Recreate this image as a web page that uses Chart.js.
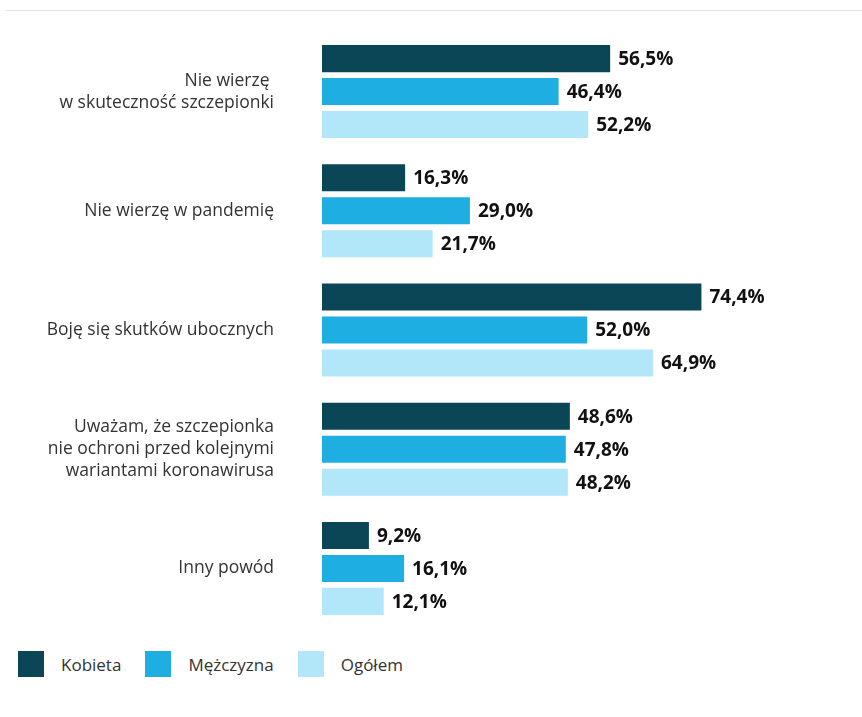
<!DOCTYPE html>
<html>
<head>
<meta charset="utf-8">
<script src="https://cdn.jsdelivr.net/npm/chart.js@4"></script>
<style>
  body { margin: 0; background: #fff; font-family: "Open Sans", sans-serif; }
  #wrap { position: relative; width: 862px; height: 717px; }
  #topline { position: absolute; left: 5px; right: 0; top: 10px; height: 1px; background: #e7e5ef; }
  #box { position: absolute; left: 0; top: 0; width: 862px; height: 640px; }
  #legend { position: absolute; left: 18px; top: 651px; display: flex; align-items: center; }
  .item { display: flex; align-items: center; margin-right: 24px; }
  .swatch { width: 26px; height: 26px; margin-right: 17px; }
  .item span { font-size: 17px; color: #333; }
</style>
</head>
<body>
<div id="wrap">
  <div id="topline"></div>
  <div id="box"><canvas id="powodyChart"></canvas></div>
  <div id="legend"></div>
</div>
<script>
const categories = [
    ['Nie wierzę ', 'w skuteczność szczepionki'],
    'Nie wierzę w pandemię',
    'Boję się skutków ubocznych',
    ['Uważam, że szczepionka', 'nie ochroni przed kolejnymi', 'wariantami koronawirusa'],
    'Inny powód'
];
const seriesNames = ['Kobieta', 'Mężczyzna', 'Ogółem'];
const kobieta = [56.5, 16.3, 74.4, 48.6, 9.2];
const mezczyzna = [46.4, 29.0, 52.0, 47.8, 16.1];
const ogolem = [52.2, 21.7, 64.9, 48.2, 12.1];
const colors = ['#0a4656', '#1eaee2', '#b1e7f8'];

const fmt = v => v.toFixed(1).replace('.', ',') + '%';

// value labels at the end of each bar
const valueLabels = {
    id: 'valueLabels',
    afterDatasetsDraw(chart) {
        const c = chart.ctx;
        c.save();
        c.font = 'bold 19px "Open Sans", sans-serif';
        c.fillStyle = '#111';
        c.textAlign = 'left';
        c.textBaseline = 'middle';
        chart.data.datasets.forEach((ds, i) => {
            chart.getDatasetMeta(i).data.forEach((bar, j) => {
                c.fillText(fmt(ds.data[j]), bar.x + 8, bar.y + 1);
            });
        });
        c.restore();
    }
};

const ctx = document.getElementById('powodyChart');
if (ctx) {
    new Chart(ctx, {
        type: 'bar',
        data: {
            labels: categories,
            datasets: [kobieta, mezczyzna, ogolem].map((d, i) => ({
                label: seriesNames[i],
                data: d,
                backgroundColor: colors[i],
                categoryPercentage: 0.83,
                barPercentage: 0.82
            }))
        },
        options: {
            indexAxis: 'y',
            responsive: true,
            maintainAspectRatio: false,
            animation: false,
            layout: { padding: { top: 32, bottom: 12, right: 30 } },
            plugins: {
                legend: { display: false },
                tooltip: { enabled: false }
            },
            scales: {
                x: {
                    display: false,
                    min: 0,
                    max: 100
                },
                y: {
                    grid: { display: false, drawTicks: false },
                    border: { display: false },
                    afterFit: s => {
                        s.width = 322;
                        s.paddingTop = 0;
                        s.paddingBottom = 0;
                    },
                    ticks: {
                        padding: 48,
                        color: '#333',
                        font: { family: '"Open Sans", sans-serif', size: 17.5, lineHeight: 1.25 }
                    }
                }
            }
        },
        plugins: [valueLabels]
    });
}

const legend = document.getElementById('legend');
seriesNames.forEach((name, i) => {
    const item = document.createElement('div');
    item.className = 'item';
    item.innerHTML = '<div class="swatch" style="background:' + colors[i] + '"></div><span>' + name + '</span>';
    legend.appendChild(item);
});
</script>
</body>
</html>
